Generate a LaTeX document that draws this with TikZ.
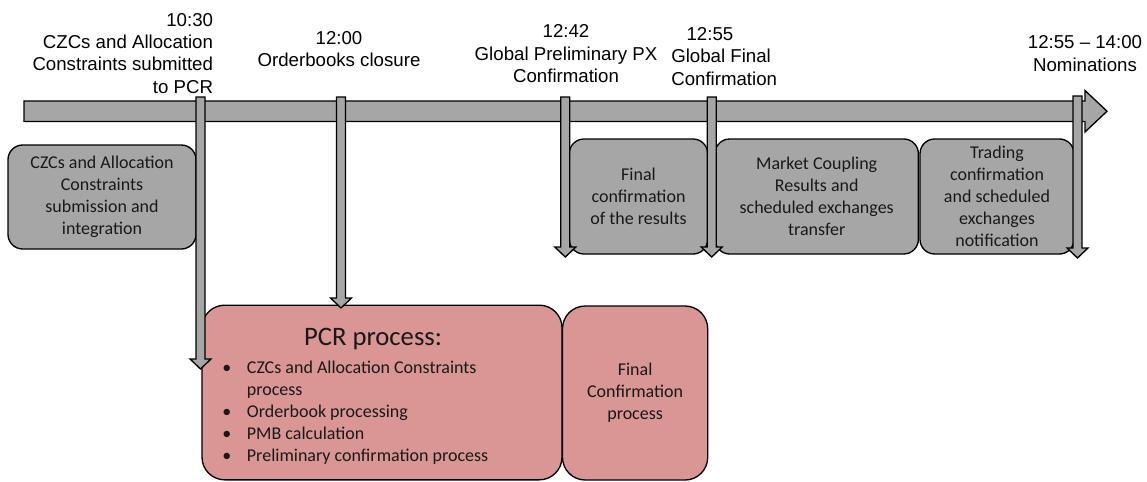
\documentclass[tikz,border=0pt]{standalone}
\usepackage{fontspec}
\setmainfont{Liberation Sans}
\newfontfamily\calfont{Carlito}
\usetikzlibrary{calc}
\definecolor{boxgray}{HTML}{A6A6A6}
\definecolor{pcrpink}{HTML}{D99694}
\newcommand\vblk[2]{\draw[blk] ($(#1)+(-4.5,0)$) -- ($(#1)+(4.5,0)$) -- ($(#2)+(4.5,-10)$) -- ($(#2)+(10.5,-10)$) -- (#2) -- ($(#2)+(-10.5,-10)$) -- ($(#2)+(-4.5,-10)$) -- cycle;}
\begin{document}
\begin{tikzpicture}[x=0.75pt,y=-0.75pt,
  lbl/.style={inner sep=0pt, anchor=base, font=\fontsize{14}{16.7}\selectfont},
  blk/.style={draw=black, line width=1pt, fill=boxgray},
  gbox/.style={draw=black, line width=1pt, fill=boxgray, rounded corners=11pt, align=center, inner sep=0pt,
    font=\calfont\fontsize{13.5}{16.5}\selectfont, text=black!90},
  pbox/.style={draw=black, line width=1pt, fill=pcrpink, rounded corners=17pt, inner sep=0pt, align=center,
    font=\calfont\fontsize{13.5}{16.5}\selectfont, text=black!90},
  ptext/.style={inner sep=0pt, text=black!90, font=\calfont\fontsize{13.5}{16.5}\selectfont},
]
\useasboundingbox (0,0) rectangle (1147,482);
% top labels (base anchor = baseline of last line)
\node[lbl, anchor=base east, align=right] (l1030) at (213.3,93) {10:30\\CZCs and Allocation\\Constraints submitted\\to PCR};
\node[lbl, align=center] (l1200) at (339,66.7) {12:00\\Orderbooks closure};
\node[lbl, align=center] (l1242) at (566,82.5) {12:42\\Global Preliminary PX\\Confirmation};
\node[lbl, anchor=base west, align=left] (l1255) at (671,85) {\hspace*{11.5pt}12:55\\Global Final\\Confirmation};
\node[lbl, align=center] (lnom) at (1085,71) {12:55 – 14:00\\Nominations};
% timeline
\coordinate (tl0) at (24,111.25);
\coordinate (tl1) at (1107,111.25);
\draw[blk] (24,101) -- (1085,101) -- (1085,90.5) -- (tl1) -- (1085,132) -- (1085,121.5) -- (24,121.5) -- cycle;
% gray boxes
\node[gbox, minimum width=141pt, minimum height=78pt] (bA) at (102,197) {CZCs and Allocation\\Constraints\\submission and\\integration};
\node[gbox, minimum width=103.8pt, minimum height=86.25pt] (bB) at (638.5,196.5) {Final\\confirmation\\of the results};
\node[gbox, minimum width=152.5pt, minimum height=86.25pt] (bC) at (816.7,196.5) {Market Coupling\\Results and\\scheduled exchanges\\transfer};
\node[gbox, minimum width=115.5pt, minimum height=86.25pt] (bD) at (997,196.5) {Trading\\confirmation\\and scheduled\\exchanges\\notification};
% pink boxes
\node[pbox, minimum width=270pt, minimum height=131pt] (pcr) at (382,392.5) {};
\node[pbox, minimum width=108.9pt, minimum height=130.5pt] (fcp) at (635.1,393) {Final\\Confirmation\\process};
\node[ptext, anchor=base, font=\calfont\fontsize{20}{24}\selectfont] (pcrtitle) at (373,345) {PCR process:};
\node[ptext, anchor=base west, align=left] (pcrlist) at (222,461.5) {%
\makebox[18.5pt][l]{•}CZCs and Allocation Constraints\\
\hspace*{18.5pt}process\\
\makebox[18.5pt][l]{•}Orderbook processing\\
\makebox[18.5pt][l]{•}PMB calculation\\
\makebox[18.5pt][l]{•}Preliminary confirmation process};
% vertical arrows
\coordinate (a1top) at (200.5,97);   \coordinate (a1tip) at (200.5,369);
\coordinate (a2top) at (341,97);     \coordinate (a2tip) at (341,308);
\coordinate (a3top) at (565.3,97);   \coordinate (a3tip) at (565.3,257);
\coordinate (a4top) at (711.7,97);   \coordinate (a4tip) at (711.7,257);
\coordinate (a5top) at (1077.5,96);  \coordinate (a5tip) at (1077.5,258);
\vblk{a1top}{a1tip}
\vblk{a2top}{a2tip}
\vblk{a3top}{a3tip}
\vblk{a4top}{a4tip}
\vblk{a5top}{a5tip}
\end{tikzpicture}
\end{document}
